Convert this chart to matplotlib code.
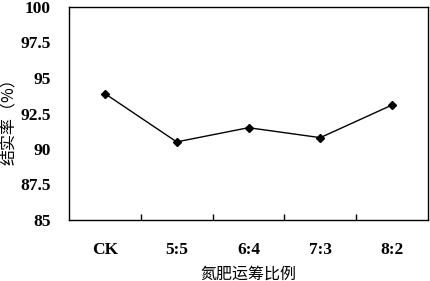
import matplotlib
matplotlib.use("Agg")
import matplotlib.pyplot as plt
from matplotlib.ticker import FixedLocator

# Data
categories = ["CK", "5:5", "6:4", "7:3", "8:2"]
fruit_set_rate = [93.9, 90.5, 91.5, 90.8, 93.1]
y_ticks = [85, 87.5, 90, 92.5, 95, 97.5, 100]
y_tick_labels = ["85", "87.5", "90", "92.5", "95", "97.5", "100"]

fig = plt.figure(figsize=(4.31, 2.81), dpi=100)
ax = fig.add_axes([69 / 431, 1 - 220 / 281, 359 / 431, 213 / 281])

x = list(range(len(categories)))
ax.plot(x, fruit_set_rate, color="black", linewidth=1.0,
        marker="D", markersize=4.5, markerfacecolor="black")

ax.set_xlim(-0.5, len(categories) - 0.5)
ax.set_ylim(85, 100)

# category labels centred, ticks between categories (Excel style)
ax.set_xticks(x)
ax.set_xticklabels(categories, fontfamily="Liberation Serif",
                   fontweight="bold", fontsize=12.5)
ax.tick_params(axis="x", which="major", length=0, pad=16)
ax.xaxis.set_minor_locator(FixedLocator([i + 0.5 for i in x[:-1]]))
ax.tick_params(axis="x", which="minor", direction="in", length=4, width=1)

ax.set_yticks(y_ticks)
ax.set_yticklabels(y_tick_labels, fontfamily="Liberation Serif",
                   fontweight="bold", fontsize=12.5)
ax.tick_params(axis="y", length=0, pad=13)

for s in ax.spines.values():
    s.set_linewidth(1.0)

ax.set_xlabel("氮肥运筹比例", fontfamily="Noto Sans CJK SC", fontsize=11.5)
ax.xaxis.set_label_coords(0.5, (220 - 274) / 213)
ax.xaxis.label.set_verticalalignment("center")
ax.set_ylabel("结实率（%）", fontfamily="Noto Sans CJK SC", fontsize=11.5)
ax.yaxis.set_label_coords((9 - 69) / 359, 0.48)
ax.yaxis.label.set_verticalalignment("center")

fig.savefig("out.png", dpi=100)
